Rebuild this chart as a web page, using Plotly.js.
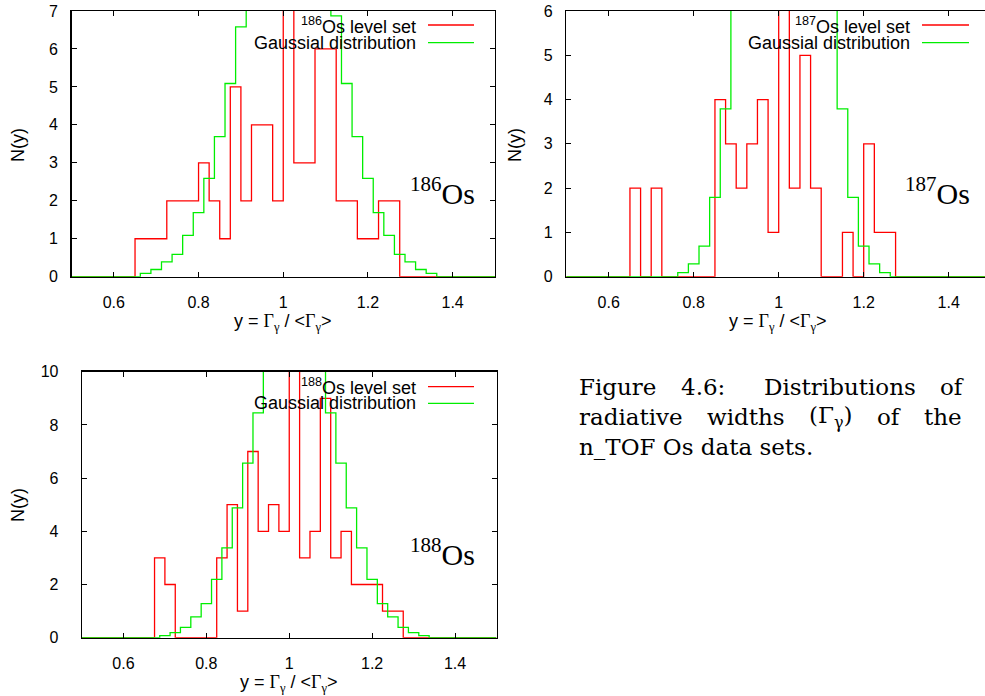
<!DOCTYPE html>
<html>
<head>
<meta charset="utf-8">
<script src="https://cdn.plot.ly/plotly-3.0.1.min.js"></script>
<style>html,body{margin:0;padding:0;background:#fff;}#plot{width:985px;height:696px;}</style>
</head>
<body>
<div id="plot"></div>
<script>
// ---------- data (bin left edges and counts) ----------
const xTickVals = [0.6, 0.8, 1.0, 1.2, 1.4];
const xTickText = ['0.6', '0.8', '1', '1.2', '1.4'];

const os186RedX = [0.650,0.675,0.700,0.725,0.750,0.775,0.800,0.825,0.850,0.875,0.900,0.925,0.950,0.975,1.000,1.025,1.050,1.075,1.100,1.125,1.150,1.175,1.200,1.225,1.250];
const os186RedN = [1,1,1,2,2,2,3,2,1,5,2,4,4,2,8,3,3,6,6,2,2,1,1,2,2];
const os186GaussX = [0.6625,0.6875,0.7125,0.7375,0.7625,0.7875,0.8125,0.8375,0.8625,0.8875,0.9125,0.9375,0.9625,0.9875,1.0125,1.0375,1.0625,1.0875,1.1125,1.1375,1.1625,1.1875,1.2125,1.2375,1.2625,1.2875,1.3125,1.3375];
const os186GaussN = [0.09,0.19,0.39,0.59,1.09,1.69,2.59,3.69,5.09,6.58,8.1,9.5,10.5,11.1,11.1,10.6,9.7,8.3,6.87,5.09,3.69,2.59,1.69,1.09,0.59,0.39,0.19,0.09];

const os187RedX = [0.650,0.675,0.700,0.725,0.750,0.775,0.800,0.825,0.850,0.875,0.900,0.925,0.950,0.975,1.000,1.025,1.050,1.075,1.100,1.125,1.150,1.175,1.200,1.225,1.250];
const os187RedN = [2,0,2,0,0,0,0,0,4,3,2,3,4,1,7,2,5,2,0,0,1,0,3,1,1];
const os187GaussX = [0.7625,0.7875,0.8125,0.8375,0.8625,0.8875,0.9125,0.9375,0.9625,0.9875,1.0125,1.0375,1.0625,1.0875,1.1125,1.1375,1.1625,1.1875,1.2125,1.2375];
const os187GaussN = [0.09,0.29,0.69,1.79,3.79,7.2,12.2,18,23,26.3,26,22.7,17.3,11.5,6.8,3.79,1.79,0.69,0.29,0.09];

const os188RedX = [0.675,0.700,0.725,0.750,0.775,0.800,0.825,0.850,0.875,0.900,0.925,0.950,0.975,1.000,1.025,1.050,1.075,1.100,1.125,1.150,1.175,1.200,1.225,1.250];
const os188RedN = [3,2,0,0,0,0,3,5,1,7,4,5,4,11,3,4,9,3,4,2,2,2,1,1];
const os188GaussX = [0.6875,0.7125,0.7375,0.7625,0.7875,0.8125,0.8375,0.8625,0.8875,0.9125,0.9375,0.9625,0.9875,1.0125,1.0375,1.0625,1.0875,1.1125,1.1375,1.1625,1.1875,1.2125,1.2375,1.2625,1.2875,1.3125];
const os188GaussN = [0.08,0.19,0.39,0.78,1.28,2.19,3.38,4.88,6.56,8.45,10.2,11.5,12.2,12.2,11.5,10.2,8.45,6.56,4.88,3.38,2.19,1.28,0.78,0.39,0.19,0.08];

const legendRed = ['<sup>186</sup>Os level set', '<sup>187</sup>Os level set', '<sup>188</sup>Os level set'];
const legendGauss = 'Gaussial distribution';
const isoMass = ['186', '187', '188'];
const xTitle = 'y = <span style="font-family:Liberation Serif">Γ</span><sub><span style="font-family:Liberation Serif">γ</span></sub> / &lt;<span style="font-family:Liberation Serif">Γ</span><sub><span style="font-family:Liberation Serif">γ</span></sub>&gt;';
const yTitle = 'N(y)';

// ---------- helpers ----------
const W = 985, H = 696;
const RED = '#ff0000', GREEN = '#00ee00';
const SANS = 'Liberation Sans, Arial, Helvetica, sans-serif';
const SERIF = 'Liberation Serif, Times New Roman, serif';
const CAPFAM = 'DejaVu Serif';
const px = v => v / W;
const py = v => 1 - v / H;

function stepTrace(edges, counts, xmin, xmax, color, xa, ya) {
  const w = edges[1] - edges[0];
  const xs = [xmin], ys = [0];
  for (let i = 0; i < edges.length; i++) { xs.push(edges[i]); ys.push(counts[i]); }
  xs.push(edges[edges.length - 1] + w); ys.push(0);
  xs.push(xmax); ys.push(0);
  return {x: xs, y: ys, type: 'scatter', mode: 'lines', line: {shape: 'hv', color: color, width: 1.3},
          xaxis: xa, yaxis: ya, showlegend: false, hoverinfo: 'skip'};
}

const traces = [
  stepTrace(os186RedX, os186RedN, 0.5, 1.5, RED, 'x', 'y'),
  stepTrace(os186GaussX, os186GaussN, 0.5, 1.5, GREEN, 'x', 'y'),
  stepTrace(os187RedX, os187RedN, 0.5, 1.5, RED, 'x2', 'y2'),
  stepTrace(os187GaussX, os187GaussN, 0.5, 1.5, GREEN, 'x2', 'y2'),
  stepTrace(os188RedX, os188RedN, 0.5, 1.5, RED, 'x3', 'y3'),
  stepTrace(os188GaussX, os188GaussN, 0.5, 1.5, GREEN, 'x3', 'y3')
];

function xAxis(domain, range, anchor) {
  return {domain: domain, range: range, anchor: anchor, tickvals: xTickVals, ticktext: xTickText,
    ticks: 'inside', ticklen: 5, tickwidth: 1, tickcolor: '#000', showline: true, linecolor: '#000', linewidth: 1.3,
    mirror: 'ticks', showgrid: false, zeroline: false, ticklabelstandoff: 11,
    tickfont: {family: SANS, size: 16, color: '#000'}, fixedrange: true};
}
function yAxis(domain, range, tickvals, anchor, mirror, standoff) {
  return {domain: domain, range: range, anchor: anchor, tickvals: tickvals,
    ticks: 'inside', ticklen: 5, tickwidth: 1, tickcolor: '#000', showline: true, linecolor: '#000', linewidth: 1.3,
    mirror: mirror, showgrid: false, zeroline: false, ticklabelstandoff: standoff,
    tickfont: {family: SANS, size: 16, color: '#000'}, fixedrange: true};
}

const ann = [], shapes = [];
function text(x, y, t, opts) {
  ann.push(Object.assign({xref: 'paper', yref: 'paper', x: px(x), y: py(y), text: t, showarrow: false,
    borderpad: 0, xanchor: 'center', yanchor: 'middle', font: {family: SANS, size: 18, color: '#000'}}, opts || {}));
}
function legendLine(x0, x1, y, color) {
  shapes.push({type: 'line', xref: 'paper', yref: 'paper', x0: px(x0), x1: px(x1), y0: py(y), y1: py(y),
    line: {color: color, width: 1.3}});
}

// panel legends / labels
const panels = [
  {legX: 417, legL: 428, legR: 474, legY1: 25, legY2: 42.7, isoX: 442, isoY: 191, xtX: 283, xtY: 322, ytX: 18, ytY: 145},
  {legX: 911, legL: 922, legR: 969, legY1: 25, legY2: 42.7, isoX: 937, isoY: 191, xtX: 778, xtY: 322, ytX: 515, ytY: 145},
  {legX: 417, legL: 428, legR: 474, legY1: 386.7, legY2: 403.3, isoX: 442, isoY: 552, xtX: 289, xtY: 683, ytX: 18, ytY: 505}
];
panels.forEach((p, i) => {
  text(p.legX, p.legY1, legendRed[i], {xanchor: 'right'});
  text(p.legX, p.legY2, legendGauss, {xanchor: 'right'});
  legendLine(p.legL, p.legR, p.legY1, RED);
  legendLine(p.legL, p.legR, p.legY2, GREEN);
  text(p.isoX, p.isoY, '<sup><span style="font-size:21px">' + isoMass[i] + '</span></sup>Os',
       {font: {family: SERIF, size: 30, color: '#000'}});
  text(p.xtX, p.xtY, xTitle);
  text(p.ytX, p.ytY, yTitle, {textangle: -90});
});

// caption, justified between two edges (word widths measured with canvas)
const CAPSIZE = 23;
const cv = document.createElement('canvas').getContext('2d');
cv.font = CAPSIZE + 'px "' + CAPFAM + '"';
const mw = s => cv.measureText(s).width;
const CAPFONT = {family: CAPFAM, size: CAPSIZE, color: '#000'};
function justifyLine(words, gapWeights, y, x0, x1) {
  const total = words.reduce((a, w) => a + w.w, 0);
  const wsum = gapWeights.reduce((a, b) => a + b, 0);
  const unit = (x1 - x0 - total) / wsum;
  let x = x0;
  words.forEach((w, i) => {
    text(x, y, w.t, {xanchor: 'left', font: CAPFONT});
    x += w.w + (i < gapWeights.length ? gapWeights[i] * unit : 0);
  });
}
const CAP_L = 578, CAP_R = 961;
justifyLine([{t: 'Figure', w: mw('Figure')}, {t: '4.6:', w: mw('4.6:')}, {t: 'Distributions', w: mw('Distributions')}, {t: 'of', w: mw('of')}],
            [1, 1.6, 1], 387, CAP_L, CAP_R);
justifyLine([{t: 'radiative', w: mw('radiative')}, {t: 'widths', w: mw('widths')},
             {t: '(Γ<sub>γ</sub>)', w: mw('(Γ)') + 0.7 * mw('γ')}, {t: 'of', w: mw('of')}, {t: 'the', w: mw('the')}],
            [1, 1, 1, 1], 417, CAP_L, CAP_R);
text(CAP_L, 447, 'n_TOF Os data sets.', {xanchor: 'left', font: CAPFONT});

const layout = {
  width: W, height: H, autosize: false,
  margin: {l: 0, r: 0, t: 0, b: 0, pad: 0},
  paper_bgcolor: '#fff', plot_bgcolor: '#fff', showlegend: false,
  xaxis: xAxis([px(71.5), px(495)], [0.5, 1.5], 'y'),
  yaxis: yAxis([py(276.7), py(11)], [0, 7], [0,1,2,3,4,5,6,7], 'x', 'ticks', 9),
  xaxis2: xAxis([px(566.2), 1], [0.5, 1.4854], 'y2'),
  yaxis2: yAxis([py(276.7), py(11)], [0, 6], [0,1,2,3,4,5,6], 'x2', false, 9),
  xaxis3: xAxis([px(82), px(496.5)], [0.5, 1.5], 'y3'),
  yaxis3: yAxis([py(637.7), py(371.7)], [0, 10], [0,2,4,6,8,10], 'x3', 'ticks', 19),
  annotations: ann, shapes: shapes
};

Plotly.newPlot('plot', traces, layout, {staticPlot: true, displayModeBar: false});
</script>
</body>
</html>
